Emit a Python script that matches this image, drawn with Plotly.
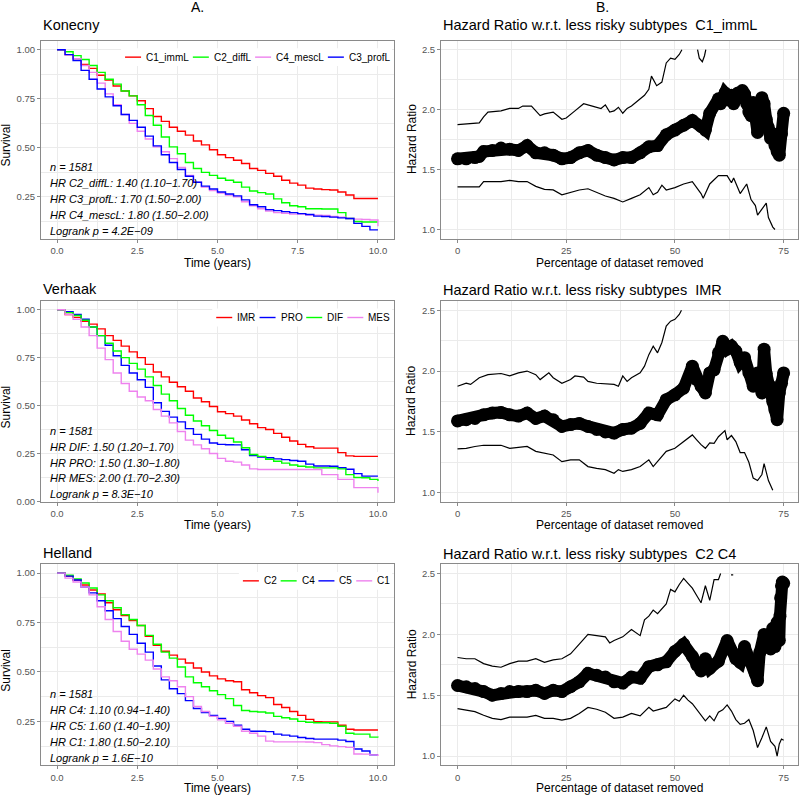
import plotly.graph_objects as go

W, H = 800, 801

RED = "#FF0000"
GREEN = "#00FF00"
BLUE = "#0000FF"
VIOLET = "#EE82EE"

# ---------------- Kaplan-Meier panels (survival read every 0.25 years) ----------------
time_years = [0, 0.25, 0.5, 0.75, 1, 1.25, 1.5, 1.75, 2, 2.25, 2.5, 2.75, 3, 3.25, 3.5, 3.75,
              4, 4.25, 4.5, 4.75, 5, 5.25, 5.5, 5.75, 6, 6.25, 6.5, 6.75, 7, 7.25, 7.5, 7.75,
              8, 8.25, 8.5, 8.75, 9, 9.25, 9.5, 9.75, 10]

konecny_groups = ["C1_immL", "C2_diffL", "C4_mescL", "C3_profL"]
konecny_c1_imml = [1.0, 0.975, 0.955, 0.925, 0.905, 0.87, 0.845, 0.815, 0.79, 0.765, 0.74, 0.70, 0.66,
                   0.635, 0.605, 0.585, 0.565, 0.535, 0.515, 0.49, 0.465, 0.45, 0.437, 0.42, 0.395, 0.385,
                   0.37, 0.355, 0.335, 0.32, 0.31, 0.295, 0.29, 0.287, 0.285, 0.275, 0.26, 0.242, 0.242,
                   0.242, 0.242]
konecny_c2_diffl = [1.0, 0.99, 0.97, 0.95, 0.92, 0.885, 0.85, 0.825, 0.79, 0.765, 0.72, 0.665, 0.615,
                    0.555, 0.505, 0.47, 0.425, 0.395, 0.375, 0.36, 0.345, 0.335, 0.325, 0.30, 0.28, 0.272,
                    0.265, 0.24, 0.22, 0.205, 0.20, 0.19, 0.19, 0.188, 0.188, 0.17, 0.14, 0.125, 0.122,
                    0.122, 0.122]
konecny_c4_mescl = [1.0, 0.975, 0.955, 0.92, 0.885, 0.83, 0.775, 0.72, 0.67, 0.625, 0.585, 0.545, 0.505,
                    0.48, 0.445, 0.40, 0.36, 0.325, 0.30, 0.283, 0.27, 0.26, 0.25, 0.225, 0.205, 0.19,
                    0.178, 0.17, 0.167, 0.162, 0.162, 0.158, 0.157, 0.155, 0.15, 0.147, 0.14, 0.137,
                    0.135, 0.132, 0.10]
konecny_c3_profl = [1.0, 0.975, 0.945, 0.895, 0.85, 0.80, 0.76, 0.715, 0.67, 0.64, 0.605, 0.56, 0.51,
                    0.465, 0.425, 0.39, 0.355, 0.325, 0.305, 0.29, 0.275, 0.265, 0.255, 0.235, 0.21, 0.20,
                    0.185, 0.18, 0.175, 0.17, 0.165, 0.16, 0.152, 0.15, 0.147, 0.143, 0.14, 0.115, 0.10,
                    0.082, 0.082]
konecny_stats = ["n = 1581", "HR C2_diffL: 1.40 (1.10\u22121.70)", "HR C3_profL: 1.70 (1.50\u22122.00)",
                 "HR C4_mescL: 1.80 (1.50\u22122.00)", "Logrank p = 4.2E\u221209"]

verhaak_groups = ["IMR", "PRO", "DIF", "MES"]
verhaak_imr = [1.0, 0.975, 0.96, 0.94, 0.925, 0.90, 0.865, 0.84, 0.81, 0.78, 0.75, 0.715, 0.675, 0.65,
               0.622, 0.598, 0.575, 0.54, 0.52, 0.495, 0.468, 0.458, 0.445, 0.425, 0.405, 0.385, 0.375,
               0.355, 0.335, 0.315, 0.298, 0.285, 0.278, 0.278, 0.278, 0.255, 0.238, 0.235, 0.235,
               0.235, 0.235]
verhaak_pro = [1.0, 0.99, 0.975, 0.95, 0.91, 0.865, 0.815, 0.76, 0.71, 0.67, 0.635, 0.595, 0.515, 0.47,
               0.44, 0.415, 0.38, 0.35, 0.325, 0.305, 0.298, 0.296, 0.295, 0.27, 0.24, 0.232, 0.228,
               0.222, 0.218, 0.214, 0.21, 0.195, 0.185, 0.185, 0.184, 0.176, 0.168, 0.145, 0.132, 0.132,
               0.132]
verhaak_dif = [1.0, 0.985, 0.97, 0.945, 0.91, 0.865, 0.825, 0.785, 0.75, 0.72, 0.69, 0.65, 0.605, 0.56,
               0.525, 0.485, 0.45, 0.42, 0.395, 0.37, 0.345, 0.33, 0.31, 0.28, 0.245, 0.235, 0.22, 0.21,
               0.20, 0.19, 0.184, 0.18, 0.175, 0.175, 0.175, 0.17, 0.14, 0.125, 0.124, 0.115, 0.107]
verhaak_mes = [1.0, 0.975, 0.95, 0.91, 0.865, 0.80, 0.74, 0.67, 0.615, 0.575, 0.545, 0.525, 0.48, 0.445,
               0.41, 0.365, 0.32, 0.295, 0.275, 0.25, 0.225, 0.21, 0.205, 0.19, 0.17, 0.167, 0.167, 0.167,
               0.167, 0.167, 0.167, 0.167, 0.167, 0.14, 0.14, 0.115, 0.115, 0.072, 0.072, 0.072, 0.046]
verhaak_stats = ["n = 1581", "HR DIF: 1.50 (1.20\u22121.70)", "HR PRO: 1.50 (1.30\u22121.80)",
                 "HR MES: 2.00 (1.70\u22122.30)", "Logrank p = 8.3E\u221210"]

helland_groups = ["C2", "C4", "C5", "C1"]
helland_c2 = [1.0, 0.985, 0.965, 0.94, 0.915, 0.895, 0.85, 0.815, 0.785, 0.76, 0.735, 0.68, 0.635, 0.605,
              0.585, 0.565, 0.545, 0.52, 0.50, 0.48, 0.465, 0.455, 0.45, 0.41, 0.395, 0.38, 0.37, 0.335,
              0.32, 0.30, 0.28, 0.26, 0.248, 0.247, 0.247, 0.23, 0.21, 0.206, 0.206, 0.206, 0.206]
helland_c4 = [1.0, 0.99, 0.97, 0.95, 0.925, 0.89, 0.86, 0.825, 0.79, 0.765, 0.735, 0.685, 0.64, 0.60,
              0.57, 0.525, 0.475, 0.445, 0.425, 0.405, 0.385, 0.365, 0.33, 0.305, 0.30, 0.297, 0.292,
              0.275, 0.268, 0.262, 0.25, 0.245, 0.243, 0.243, 0.24, 0.225, 0.19, 0.185, 0.185, 0.17, 0.168]
helland_c5 = [1.0, 0.985, 0.965, 0.93, 0.90, 0.86, 0.81, 0.77, 0.73, 0.69, 0.645, 0.60, 0.53, 0.46,
              0.415, 0.39, 0.355, 0.315, 0.295, 0.28, 0.265, 0.25, 0.23, 0.21, 0.20, 0.20, 0.198, 0.185,
              0.18, 0.175, 0.168, 0.163, 0.16, 0.16, 0.16, 0.155, 0.148, 0.11, 0.10, 0.08, 0.08]
helland_c1 = [1.0, 0.975, 0.955, 0.93, 0.89, 0.83, 0.765, 0.705, 0.655, 0.615, 0.59, 0.56, 0.515, 0.475,
              0.455, 0.425, 0.375, 0.325, 0.30, 0.275, 0.258, 0.24, 0.225, 0.20, 0.19, 0.175, 0.15, 0.146,
              0.146, 0.146, 0.146, 0.145, 0.142, 0.132, 0.126, 0.122, 0.118, 0.085, 0.084, 0.08, 0.075]
helland_stats = ["n = 1581", "HR C4: 1.10 (0.94\u22121.40)", "HR C5: 1.60 (1.40\u22121.90)",
                 "HR C1: 1.80 (1.50\u22122.10)", "Logrank p = 1.6E\u221210"]

# ---------------- Hazard ratio panels ----------------
hr1_pct = [0, 2, 4, 5, 6, 8, 10, 12, 14, 16, 18, 20, 22, 24, 26, 28, 30, 32, 34, 36, 38, 40, 42, 44, 46,
           48, 50, 52, 54, 56, 57, 58, 60, 60.5, 61, 61.5, 62, 62.5, 63, 63.5, 64, 64.5, 65, 65.5, 66,
           66.5, 67, 67.5, 68, 68.5, 69, 69.5, 70, 70.5, 71, 71.5, 72, 72.5, 73, 73.5, 74, 74.5, 75]
hr1_val = [1.59, 1.59, 1.60, 1.61, 1.65, 1.66, 1.68, 1.67, 1.66, 1.70, 1.64, 1.64, 1.62, 1.59, 1.60, 1.64,
           1.66, 1.62, 1.60, 1.58, 1.60, 1.60, 1.64, 1.69, 1.70, 1.79, 1.83, 1.87, 1.91, 1.86, 1.83, 1.97,
           2.09, 2.05, 2.10, 2.14, 2.12, 2.08, 2.12, 2.05, 2.09, 2.14, 2.10, 2.16, 2.13, 2.05, 1.98, 1.95,
           2.06, 1.95, 1.81, 1.95, 2.10, 2.05, 1.92, 1.85, 1.76, 1.80, 1.70, 1.65, 1.62, 1.80, 1.97]
hr1_hi_pct = [0, 5, 6, 7, 10, 12, 14, 15, 17, 18, 19, 20, 22, 24, 25, 27, 29, 31, 33, 34, 35, 36, 37, 38,
              39, 40, 41, 42, 43, 44, 44.6, 45.8, 47, 48, 49, 50, 51, 51.6, 53, 55.2, 55.6, 56.3, 56.8, 57.1]
hr1_hi = [1.875, 1.89, 1.94, 1.98, 1.99, 2.01, 2.01, 2.03, 2.03, 1.99, 1.95, 1.965, 1.98, 1.92, 1.93,
          1.99, 2.05, 2.03, 2.01, 2.04, 1.98, 1.99, 2.02, 1.97, 2.01, 2.03, 2.06, 2.09, 2.12, 2.17, 2.28,
          2.20, 2.23, 2.39, 2.43, 2.42, 2.46, 2.50, None, 2.50, 2.43, 2.40, 2.45, 2.50]
hr1_lo_pct = [0, 5, 6, 10, 12, 14, 16, 18, 20, 22, 24, 26, 28, 30, 32, 34, 36, 38, 40, 42, 44, 45, 46, 47,
              48, 50, 52, 54, 56, 56.5, 58, 60, 62, 63, 63.5, 65, 66.5, 67.5, 68.5, 69, 70, 71, 71.5, 72.5, 73]
hr1_lo = [1.355, 1.355, 1.40, 1.40, 1.41, 1.40, 1.40, 1.36, 1.335, 1.33, 1.29, 1.31, 1.33, 1.34, 1.31,
          1.28, 1.26, 1.23, 1.26, 1.29, 1.35, 1.29, 1.31, 1.37, 1.33, 1.35, 1.38, 1.40, 1.30, 1.26, 1.38,
          1.45, 1.45, 1.39, 1.43, 1.30, 1.38, 1.25, 1.20, 1.12, 1.17, 1.22, 1.10, 1.02, 1.0]

hr2_pct = [0, 2, 4, 6, 8, 10, 12, 14, 16, 18, 20, 22, 24, 26, 28, 30, 32, 34, 36, 38, 40, 42, 44, 46, 48,
           50, 52, 54, 55, 56, 57, 58, 59, 60, 61, 62, 63, 64, 65, 66, 67, 68, 69, 70, 70.25, 70.5, 71, 72,
           72.5, 73, 73.5, 74, 74.5, 75]
hr2_val = [1.59, 1.60, 1.61, 1.64, 1.655, 1.66, 1.64, 1.63, 1.655, 1.61, 1.63, 1.60, 1.545, 1.56, 1.57,
           1.545, 1.52, 1.50, 1.49, 1.52, 1.53, 1.57, 1.655, 1.64, 1.765, 1.805, 1.86, 2.04, 1.93, 1.875,
           1.82, 1.985, 2.01, 2.15, 2.245, 2.18, 2.205, 2.165, 2.07, 2.11, 1.985, 1.875, 1.985, 1.82, 2.0,
           2.18, 1.98, 1.875, 1.75, 1.68, 1.60, 1.82, 1.90, 1.985]
hr2_hi_pct = [0, 2, 3, 5, 7, 10, 12, 14, 16, 18, 19, 20, 21, 22, 24, 26, 27, 29, 30, 32, 34, 36, 37, 38,
              39, 40, 42, 43, 44, 45, 46, 47, 48, 49, 50, 51, 51.5]
hr2_hi = [1.875, 1.90, 1.89, 1.945, 1.97, 1.98, 1.96, 1.985, 2.0, 1.97, 1.93, 1.96, 1.985, 1.945, 1.90,
          1.93, 1.96, 1.95, 1.915, 1.90, 1.895, 1.89, 1.875, 1.96, 1.915, 1.945, 1.985, 2.04, 2.135, 2.205,
          2.15, 2.235, 2.37, 2.41, 2.425, 2.465, 2.50]
hr2_lo_pct = [0, 2, 4, 6, 8, 10, 12, 14, 16, 18, 20, 22, 24, 26, 28, 30, 32, 34, 36, 37, 38, 40, 42, 44,
              45, 46, 48, 50, 52, 54, 55, 56, 57, 58, 59, 60, 61.5, 62, 63, 64, 65, 66, 67, 68, 69, 70, 70.5,
              71.5, 72.5]
hr2_lo = [1.36, 1.365, 1.38, 1.39, 1.39, 1.39, 1.365, 1.375, 1.38, 1.34, 1.325, 1.31, 1.255, 1.27, 1.27,
          1.215, 1.20, 1.19, 1.16, 1.19, 1.175, 1.19, 1.215, 1.27, 1.215, 1.255, 1.34, 1.365, 1.42, 1.475,
          1.435, 1.395, 1.365, 1.41, 1.405, 1.46, 1.51, 1.435, 1.47, 1.42, 1.33, 1.33, 1.25, 1.12, 1.10,
          1.15, 1.24, 1.10, 1.02]

hr3_pct = [0, 2, 4, 6, 8, 10, 12, 14, 16, 18, 20, 22, 24, 26, 28, 30, 32, 34, 36, 38, 40, 42, 44, 46, 48,
           50, 52, 54, 55, 56, 57, 58, 60, 62, 64, 65, 66, 67, 68.5, 69, 69.5, 70.5, 71.5, 72, 72.5, 73,
           73.5, 74, 74.15, 74.3, 74.5, 74.7, 75]
hr3_val = [1.58, 1.57, 1.555, 1.53, 1.50, 1.515, 1.53, 1.53, 1.53, 1.54, 1.515, 1.54, 1.53, 1.57, 1.61,
           1.68, 1.665, 1.65, 1.61, 1.60, 1.65, 1.64, 1.735, 1.75, 1.775, 1.86, 1.92, 1.82, 1.75, 1.70,
           1.80, 1.72, 1.78, 1.95, 1.80, 1.77, 1.90, 1.80, 1.68, 1.62, 1.85, 2.0, 1.95, 1.88, 2.05, 1.90,
           2.10, 1.95, 2.15, 2.30, 2.40, 2.43, 2.42]
hr3_hi_pct = [0, 2, 4, 6, 8, 10, 12, 14, 16, 18, 20, 22, 24, 26, 28, 30, 32, 34, 35, 36, 38, 40, 42, 43,
              44, 45, 46, 48, 49, 50, 51, 52, 53, 54, 55, 56, 57, 58, 59, 60, 60.5, 61, 62.9, 63.4]
hr3_hi = [1.81, 1.80, 1.80, 1.76, 1.74, 1.73, 1.76, 1.78, 1.78, 1.80, 1.77, 1.79, 1.80, 1.84, 1.92, 2.0,
          1.99, 1.98, 1.93, 1.95, 1.98, 2.04, 1.99, 2.12, 2.15, 2.20, 2.17, 2.25, 2.37, 2.35, 2.41, 2.46,
          2.42, 2.38, 2.32, 2.26, 2.40, 2.28, 2.45, 2.45, 2.50, None, 2.49, 2.49]
hr3_lo_pct = [0, 2, 4, 6, 8, 10, 12, 14, 16, 18, 20, 22, 24, 26, 28, 30, 32, 34, 36, 38, 40, 42, 44, 45,
              46, 48, 50, 51, 52, 53, 54, 55, 56, 57, 58, 59, 60, 61, 62, 63, 64, 65, 66, 67, 68, 69, 70,
              71, 72, 73, 73.5, 74, 74.5, 75]
hr3_lo = [1.39, 1.375, 1.365, 1.335, 1.31, 1.30, 1.32, 1.32, 1.32, 1.335, 1.31, 1.31, 1.295, 1.31, 1.35,
          1.40, 1.385, 1.36, 1.31, 1.32, 1.35, 1.33, 1.40, 1.37, 1.38, 1.40, 1.47, 1.45, 1.50, 1.46, 1.43,
          1.38, 1.34, 1.29, 1.33, 1.29, 1.36, 1.38, 1.42, 1.37, 1.30, 1.26, 1.27, 1.30, 1.21, 1.07, 1.15,
          1.24, 1.12, 1.08, 1.0, 1.10, 1.14, 1.13]

# ---------------- layout helpers ----------------
def fx(px):
    return px / W


def fy(py):
    return 1 - py / H


# Arial advance widths (per em) for the legend labels, used to right-align the legend
CHAR_W = {"C": .722, "_": .556, "i": .222, "m": .833, "L": .556, "d": .556, "f": .278, "e": .556,
          "s": .5, "c": .5, "p": .556, "r": .333, "o": .556, "I": .278, "M": .833, "R": .722,
          "P": .667, "O": .778, "D": .722, "F": .611, "E": .667, "S": .667}


def text_width(s, size):
    return sum(CHAR_W.get(ch, .556) for ch in s) * size


FONT = "Liberation Sans, Arial, Helvetica, sans-serif"
left_px = (41, 394)
right_px = (441, 798)
rows_px = [(41, 240), (303, 505), (568, 770)]
title_y = [25, 290.5, 556]
xtitle_y = [265, 528.3, 793.3]
LEG_FONT = 10
LEG_LINE = 16
LEG_RIGHT = 388

km_panels = [
    dict(title="Konecny", groups=konecny_groups,
         curves=[konecny_c1_imml, konecny_c2_diffl, konecny_c4_mescl, konecny_c3_profl],
         colors=[RED, GREEN, VIOLET, BLUE], stats=konecny_stats, yrange=[0.038, 1.046]),
    dict(title="Verhaak", groups=verhaak_groups,
         curves=[verhaak_imr, verhaak_pro, verhaak_dif, verhaak_mes],
         colors=[RED, BLUE, GREEN, VIOLET], stats=verhaak_stats, yrange=[-0.002, 1.045]),
    dict(title="Helland", groups=helland_groups,
         curves=[helland_c2, helland_c4, helland_c5, helland_c1],
         colors=[RED, GREEN, BLUE, VIOLET], stats=helland_stats, yrange=[0.028, 1.044]),
]

hr_panels = [
    dict(title="Hazard Ratio w.r.t. less risky subtypes \u00a0C1_immL",
         pct=hr1_pct, val=hr1_val, hi_pct=hr1_hi_pct, hi=hr1_hi, lo_pct=hr1_lo_pct, lo=hr1_lo),
    dict(title="Hazard Ratio w.r.t. less risky subtypes \u00a0IMR",
         pct=hr2_pct, val=hr2_val, hi_pct=hr2_hi_pct, hi=hr2_hi, lo_pct=hr2_lo_pct, lo=hr2_lo),
    dict(title="Hazard Ratio w.r.t. less risky subtypes \u00a0C2 C4",
         pct=hr3_pct, val=hr3_val, hi_pct=hr3_hi_pct, hi=hr3_hi, lo_pct=hr3_lo_pct, lo=hr3_lo),
]

fig = go.Figure()
annotations = []
shapes = []
layout_axes = {}

GRID = "#EBEBEB"
BORDER = "#8a8a8a"
TICKFONT = dict(family=FONT, size=9.5, color="#555555")


def axis_common():
    return dict(showline=True, linecolor=BORDER, linewidth=1, mirror=True, ticks="outside",
                ticklen=3, tickcolor=BORDER, tickfont=TICKFONT, showgrid=True, gridcolor=GRID,
                gridwidth=1, zeroline=False, fixedrange=True)


def text(x, y, s, size, xanchor="left", angle=0, color="#000000"):
    annotations.append(dict(x=fx(x), y=fy(y), xref="paper", yref="paper", text=s, showarrow=False,
                            xanchor=xanchor, yanchor="middle", textangle=angle,
                            font=dict(family=FONT, size=size, color=color)))


for r in range(3):
    top, bottom = rows_px[r]
    ydom = [fy(bottom), fy(top)]
    for c in range(2):
        idx = r * 2 + c + 1
        xname = "xaxis" if idx == 1 else f"xaxis{idx}"
        yname = "yaxis" if idx == 1 else f"yaxis{idx}"
        xref = "x" if idx == 1 else f"x{idx}"
        yref = "y" if idx == 1 else f"y{idx}"
        xa = axis_common()
        ya = axis_common()
        if c == 0:
            p = km_panels[r]
            x0, x1 = left_px
            xa.update(domain=[fx(x0), fx(x1)], range=[-0.5, 10.5], tick0=0, dtick=2.5, tickformat=".1f",
                      minor=dict(dtick=1.25, tick0=0, showgrid=True, gridcolor=GRID, gridwidth=0.6))
            ya.update(domain=ydom, range=p["yrange"], tick0=0, dtick=0.25, tickformat=".2f",
                      minor=dict(dtick=0.125, tick0=0, showgrid=True, gridcolor=GRID, gridwidth=0.6))
            for name, surv, col in zip(p["groups"], p["curves"], p["colors"]):
                fig.add_trace(go.Scatter(x=time_years, y=surv, mode="lines", name=name,
                                         line=dict(color=col, width=1.4, shape="hv"),
                                         xaxis=xref, yaxis=yref, showlegend=False))
            # legend (ggplot style, inside top right), laid out right to left
            leg_y = top + 16.5
            widths = [LEG_LINE + 3 + text_width(g, LEG_FONT) for g in p["groups"]]
            start = LEG_RIGHT - sum(widths) - 6 * (len(widths) - 1)
            shapes.append(dict(type="rect", xref="paper", yref="paper", layer="above",
                               x0=fx(start - 4), x1=fx(x1 - 2), y0=fy(leg_y + 9),
                               y1=fy(leg_y - 9), fillcolor="white", line=dict(width=0)))
            lx = start
            for name, col, wdt in zip(p["groups"], p["colors"], widths):
                shapes.append(dict(type="line", xref="paper", yref="paper", layer="above",
                                   x0=fx(lx), x1=fx(lx + LEG_LINE), y0=fy(leg_y), y1=fy(leg_y),
                                   line=dict(color=col, width=1.4)))
                text(lx + LEG_LINE + 3, leg_y, name, LEG_FONT)
                lx += wdt + 6
            for k, line in enumerate(p["stats"]):
                text(48, bottom - [71.5, 55.5, 39.5, 23.5, 7.5][k], "<i>" + line + "</i>", 11)
            text(x0, title_y[r], p["title"], 14.5)
            text((x0 + x1) / 2, xtitle_y[r], "Time (years)", 12, xanchor="center")
            text(6, (top + bottom) / 2 + 6, "Survival", 12, xanchor="center", angle=-90)
        else:
            p = hr_panels[r]
            x0, x1 = right_px
            xa.update(domain=[fx(x0), fx(x1)], range=[-3.8, 78.3], tick0=0, dtick=25,
                      minor=dict(dtick=12.5, tick0=0, showgrid=True, gridcolor=GRID, gridwidth=0.6))
            ya.update(domain=ydom, range=[0.925, 2.575], tick0=1, dtick=0.5, tickformat=".1f",
                      minor=dict(dtick=0.25, tick0=1, showgrid=True, gridcolor=GRID, gridwidth=0.6))
            fig.add_trace(go.Scatter(x=p["hi_pct"], y=p["hi"], mode="lines", connectgaps=False,
                                     line=dict(color="black", width=1.2), xaxis=xref, yaxis=yref,
                                     showlegend=False))
            fig.add_trace(go.Scatter(x=p["lo_pct"], y=p["lo"], mode="lines",
                                     line=dict(color="black", width=1.2), xaxis=xref, yaxis=yref,
                                     showlegend=False))
            # hazard ratio estimates: dense big points -> thick band
            fig.add_trace(go.Scatter(x=p["pct"], y=p["val"], mode="lines+markers",
                                     line=dict(color="black", width=12),
                                     marker=dict(color="black", size=13, line=dict(width=0)),
                                     xaxis=xref, yaxis=yref, showlegend=False))
            text(x0, title_y[r] + (1.2 if r else 0), p["title"], 14.5)
            text((x0 + x1) / 2, xtitle_y[r], "Percentage of dataset removed", 12, xanchor="center")
            text(411.5, (top + bottom) / 2, "Hazard Ratio", 12, xanchor="center", angle=-90)
        xa["anchor"] = yref
        ya["anchor"] = xref
        layout_axes[xname] = xa
        layout_axes[yname] = ya

text(197, 7, "A.", 14, xanchor="center")
text(602, 7, "B.", 14, xanchor="center")

fig.update_layout(width=W, height=H, margin=dict(l=0, r=0, t=0, b=0), paper_bgcolor="white",
                  plot_bgcolor="white", font=dict(family=FONT, color="black"), showlegend=False,
                  hovermode=False, annotations=annotations, shapes=shapes, **layout_axes)

fig.write_html("out.html", config={"displayModeBar": False},
               post_script="document.body.style.margin='0';document.body.style.overflow='hidden';")
